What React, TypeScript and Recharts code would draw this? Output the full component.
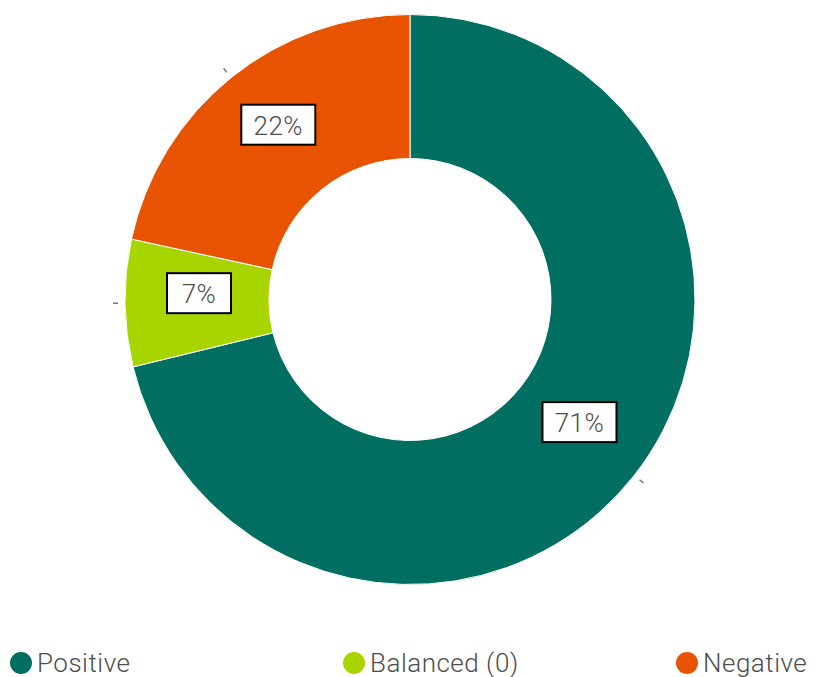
import { PieChart, Pie, Cell } from "recharts";

const categories = ["Positive", "Balanced (0)", "Negative"];
const shares = [71.2, 7.2, 21.6];
const COLORS = ["#006f62", "#a8d400", "#e75300"];

const RADIAN = Math.PI / 180;
const FONT = "Roboto, 'Open Sans', sans-serif";

const data = categories.map((name, i) => ({ name, value: shares[i] }));

// Boxed percentage label plus a short grey tick just outside the ring
const renderLabel = (props: any) => {
  const { cx, cy, midAngle, innerRadius, outerRadius, value } = props;
  const r = (innerRadius + outerRadius) / 2;
  const cos = Math.cos(-midAngle * RADIAN);
  const sin = Math.sin(-midAngle * RADIAN);
  const x = cx + r * cos + 2;
  const y = cy + r * sin - 9;
  const text = `${Math.round(value)}%`;
  const w = 44 + 10 * text.length;
  const h = 40;
  return (
    <g>
      <line
        x1={cx + (outerRadius + 7) * cos}
        y1={cy + (outerRadius + 7) * sin}
        x2={cx + (outerRadius + 12) * cos}
        y2={cy + (outerRadius + 12) * sin}
        stroke="#777"
        strokeWidth={1.5}
      />
      <rect x={x - w / 2} y={y - h / 2} width={w} height={h} fill="#fff" stroke="#000" strokeWidth={2} />
      <text
        x={x}
        y={y + 1}
        textAnchor="middle"
        dominantBaseline="central"
        fill="#4d4d4d"
        fontSize={26}
        fontWeight={300}
        fontFamily={FONT}
        letterSpacing={0.5}
      >
        {text}
      </text>
    </g>
  );
};

export default function App() {
  return (
    <div style={{ position: "absolute", left: 0, top: 0, width: 815, height: 677, background: "#fff" }}>
      <PieChart width={815} height={610} margin={{ top: 0, right: 0, bottom: 0, left: 0 }}>
        <Pie
          data={data}
          dataKey="value"
          nameKey="name"
          cx={410}
          cy={299.5}
          innerRadius={141}
          outerRadius={285}
          startAngle={90}
          endAngle={-270}
          stroke="#fff"
          strokeWidth={1}
          label={renderLabel}
          labelLine={false}
          isAnimationActive={false}
        >
          {data.map((_d, i) => (
            <Cell key={`cell-${i}`} fill={COLORS[i]} />
          ))}
        </Pie>
      </PieChart>
      <div
        style={{
          position: "absolute",
          left: 10,
          width: 805,
          top: 646,
          display: "grid",
          gridTemplateColumns: "333px 333px auto",
          fontFamily: FONT,
          fontWeight: 300,
          fontSize: 26,
          letterSpacing: 0.5,
          color: "#4d4d4d",
          whiteSpace: "nowrap",
        }}
      >
        {categories.map((name, i) => (
          <div key={name} style={{ display: "flex", alignItems: "center", gap: 5, lineHeight: "34px" }}>
            <span
              style={{ width: 22, height: 22, borderRadius: "50%", background: COLORS[i], display: "inline-block", flexShrink: 0 }}
            />
            <span>{name}</span>
          </div>
        ))}
      </div>
    </div>
  );
}
